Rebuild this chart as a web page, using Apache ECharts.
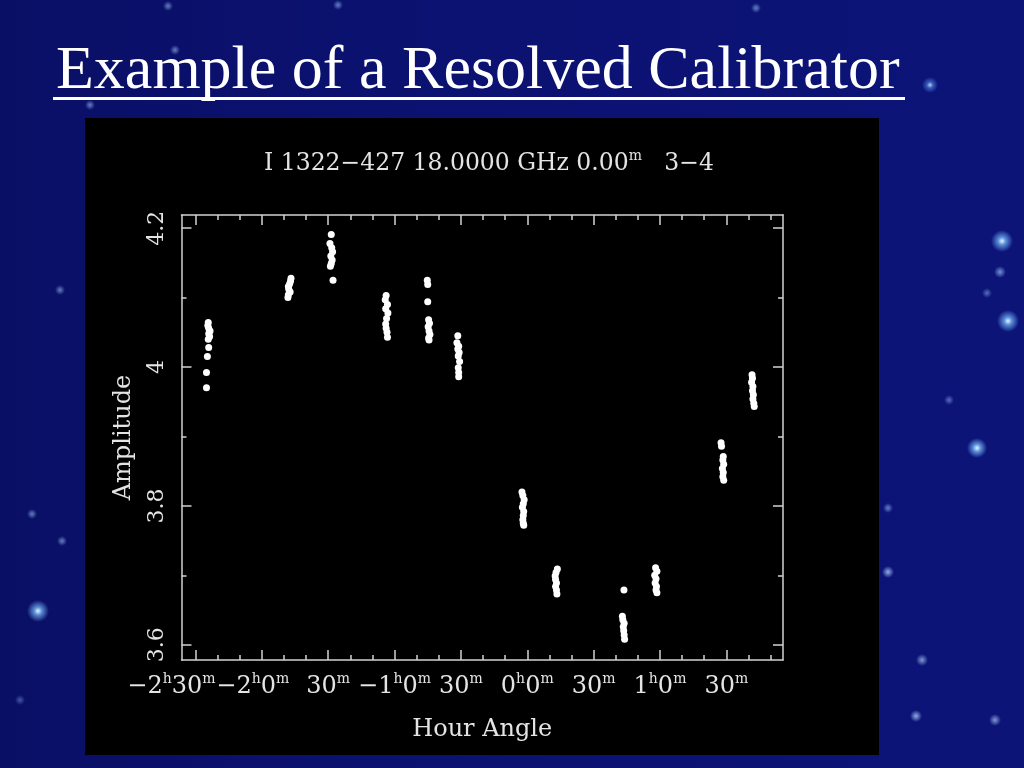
<!DOCTYPE html>
<html><head><meta charset="utf-8">
<script src="https://cdn.jsdelivr.net/npm/echarts@6/dist/echarts.min.js"></script>
<style>
html,body{margin:0;padding:0;width:1024px;height:768px;overflow:hidden;}
body{
 background:
  radial-gradient(circle at 1002px 241px, rgba(225,245,255,1) 0, rgba(120,190,255,0.7) 4px, rgba(60,110,255,0) 11px),
  radial-gradient(circle at 1008px 321px, rgba(225,245,255,1) 0, rgba(120,190,255,0.7) 4px, rgba(60,110,255,0) 11px),
  radial-gradient(circle at 977px 448px, rgba(225,245,255,1) 0, rgba(120,190,255,0.7) 4px, rgba(60,110,255,0) 10px),
  radial-gradient(circle at 38px 611px, rgba(225,245,255,1) 0, rgba(120,190,255,0.7) 4px, rgba(60,110,255,0) 11px),
  radial-gradient(circle at 930px 85px, rgba(200,230,255,0.9) 0, rgba(100,160,255,0.5) 3px, rgba(60,110,255,0) 8px),
  radial-gradient(circle at 1000px 272px, rgba(160,200,255,0.7) 0, rgba(60,110,255,0) 6px),
  radial-gradient(circle at 987px 293px, rgba(160,200,255,0.5) 0, rgba(60,110,255,0) 5px),
  radial-gradient(circle at 949px 400px, rgba(160,200,255,0.5) 0, rgba(60,110,255,0) 5px),
  radial-gradient(circle at 888px 572px, rgba(180,210,255,0.8) 0, rgba(60,110,255,0) 6px),
  radial-gradient(circle at 922px 660px, rgba(180,210,255,0.7) 0, rgba(60,110,255,0) 6px),
  radial-gradient(circle at 916px 716px, rgba(180,210,255,0.8) 0, rgba(60,110,255,0) 6px),
  radial-gradient(circle at 995px 720px, rgba(180,210,255,0.7) 0, rgba(60,110,255,0) 6px),
  radial-gradient(circle at 888px 508px, rgba(160,200,255,0.6) 0, rgba(60,110,255,0) 5px),
  radial-gradient(circle at 32px 514px, rgba(160,200,255,0.6) 0, rgba(60,110,255,0) 5px),
  radial-gradient(circle at 62px 541px, rgba(160,200,255,0.6) 0, rgba(60,110,255,0) 5px),
  radial-gradient(circle at 60px 290px, rgba(160,200,255,0.6) 0, rgba(60,110,255,0) 5px),
  radial-gradient(circle at 90px 105px, rgba(160,200,255,0.6) 0, rgba(60,110,255,0) 5px),
  radial-gradient(circle at 168px 6px, rgba(160,200,255,0.6) 0, rgba(60,110,255,0) 5px),
  radial-gradient(circle at 338px 5px, rgba(160,200,255,0.6) 0, rgba(60,110,255,0) 5px),
  radial-gradient(circle at 756px 8px, rgba(160,200,255,0.6) 0, rgba(60,110,255,0) 5px),
  radial-gradient(circle at 625px 62px, rgba(160,200,255,0.6) 0, rgba(60,110,255,0) 5px),
  radial-gradient(circle at 175px 50px, rgba(160,200,255,0.6) 0, rgba(60,110,255,0) 5px),
  radial-gradient(circle at 20px 700px, rgba(160,200,255,0.4) 0, rgba(60,110,255,0) 5px),
  linear-gradient(90deg, #0a0f66 0%, #0b1272 50%, #0c1478 100%);
}
#chart{position:absolute;left:0;top:0;width:1024px;height:768px;}
</style></head><body><div id="chart"></div>
<script>
// ---- data (hour angle in minutes, amplitude) ----
const scan01 = [[-145.0,3.970],[-145.0,3.992],[-144.6,4.015],[-144.0,4.028],[-144.2,4.040],[-143.6,4.044],[-144.0,4.048],[-143.4,4.052],[-144.0,4.056],[-144.4,4.060],[-144.2,4.064]];
const scan02 = [[-108.2,4.100],[-108.0,4.104],[-107.2,4.108],[-107.8,4.112],[-108.0,4.116],[-107.4,4.120],[-107.0,4.124],[-106.8,4.128]];
const scan03 = [[-88.6,4.191],[-89.2,4.178],[-88.4,4.172],[-88.0,4.166],[-88.8,4.160],[-88.2,4.154],[-88.6,4.149],[-89.0,4.145],[-87.8,4.125]];
const scan04 = [[-63.8,4.103],[-64.2,4.097],[-63.2,4.090],[-64.0,4.084],[-63.0,4.078],[-63.6,4.070],[-64.0,4.062],[-63.8,4.056],[-63.4,4.050],[-63.2,4.043]];
const scan05 = [[-45.2,4.125],[-45.0,4.119],[-45.0,4.094],[-44.6,4.068],[-44.2,4.063],[-44.8,4.058],[-44.4,4.052],[-44.0,4.047],[-44.6,4.042],[-44.4,4.039]];
const scan06 = [[-31.4,4.045],[-31.8,4.035],[-31.0,4.030],[-31.4,4.026],[-30.8,4.021],[-31.2,4.016],[-30.6,4.008],[-31.2,3.999],[-31.0,3.992],[-31.0,3.986]];
const scan07 = [[-2.4,3.820],[-2.0,3.815],[-1.4,3.809],[-1.8,3.803],[-2.2,3.798],[-1.6,3.792],[-1.8,3.786],[-2.0,3.780],[-1.8,3.775],[-1.6,3.772]];
const scan08 = [[13.6,3.709],[13.0,3.704],[12.6,3.699],[12.8,3.694],[13.2,3.689],[12.8,3.684],[13.2,3.679],[13.4,3.673]];
const scan09 = [[43.7,3.679],[43.0,3.641],[43.2,3.636],[43.8,3.631],[43.4,3.626],[43.6,3.620],[43.8,3.614],[44.0,3.608]];
const scan10 = [[58.0,3.711],[58.6,3.706],[57.6,3.700],[58.2,3.695],[57.8,3.689],[58.4,3.684],[58.2,3.679],[58.6,3.675]];
const scan11 = [[87.6,3.891],[87.8,3.886],[88.6,3.871],[88.4,3.866],[88.8,3.860],[88.2,3.854],[88.6,3.848],[88.4,3.842],[88.8,3.837]];
const scan12 = [[101.6,3.989],[101.8,3.984],[101.4,3.978],[102.0,3.972],[101.8,3.966],[102.2,3.960],[102.0,3.954],[102.4,3.948],[102.6,3.943]];

const xMajorTicks = [-150,-120,-90,-60,-30,0,30,60,90];
const xMinorTicks = [-140,-130,-110,-100,-80,-70,-50,-40,-20,-10,10,20,40,50,70,80,100,110];
const xTickHours = ['−2','−2','','−1','','0','','1',''];
const xTickMinutes = ['30','0','30','0','30','0','30','0','30'];
const yMajorTicks = [3.6,3.8,4.0,4.2];
const yMinorTicks = [3.7,3.9,4.1];
const yTickLabels = ['3.6','3.8','4','4.2'];

const slideTitle = 'Example of a Resolved Calibrator';
const plotTitle = 'I 1322−427 18.0000 GHz 0.00';
const plotTitleSup = 'm';
const plotTitleTail = '   3−4';
const xAxisName = 'Hour Angle';
const yAxisName = 'Amplitude';

const TXT = '#e4e4e4', AX = '#d2d2d2', FONT = 'DejaVu Serif';
const X_MIN = -156.3, X_MAX = 115.6, Y_MIN = 3.578, Y_MAX = 4.219;

const allPoints = [].concat(scan01,scan02,scan03,scan04,scan05,scan06,scan07,scan08,scan09,scan10,scan11,scan12);

function xAx(pos, ticks, len, withLine, extra){
  return Object.assign({
    type:'value', position:pos, min:X_MIN, max:X_MAX,
    axisLine:{show:withLine, onZero:false, lineStyle:{color:AX, width:1.5}},
    axisTick:{show:ticks.length>0, inside:true, length:len, customValues:ticks, lineStyle:{color:AX, width:1.5}},
    axisLabel:{show:false}, splitLine:{show:false}
  }, extra||{});
}
function yAx(pos, ticks, len, withLine, extra){
  return Object.assign({
    type:'value', position:pos, min:Y_MIN, max:Y_MAX,
    axisLine:{show:withLine, onZero:false, lineStyle:{color:AX, width:1.5}},
    axisTick:{show:true, inside:true, length:len, customValues:ticks, lineStyle:{color:AX, width:1.5}},
    axisLabel:{show:false}, splitLine:{show:false}
  }, extra||{});
}

const supBase = {fontFamily:FONT, fontSize:14, fontWeight:'normal', color:TXT, verticalAlign:'top', lineHeight:14};
const xLabelRich = {
  n:{fontFamily:FONT, fontSize:24, fontWeight:'normal', color:TXT, lineHeight:30},
  s:Object.assign({}, supBase),
  s1:Object.assign({}, supBase, {padding:[0,48,0,0]}),
  s2:Object.assign({}, supBase, {padding:[0,18,0,0]})
};
function xLabelFormatter(v){
  const i = xMajorTicks.indexOf(Math.round(v));
  if(i<0) return '';
  let s = '';
  if(xTickHours[i] !== '') s += '{n|'+xTickHours[i]+'}{s|h}';
  s += '{n|'+xTickMinutes[i]+'}{'+(i===0?'s1':(i===1?'s2':'s'))+'|m}';
  return s;
}
function xLabelCfg(values){
  return {show:true, customValues:values, margin:12, rich:xLabelRich, hideOverlap:false, formatter:xLabelFormatter};
}

const chart = echarts.init(document.getElementById('chart'));
chart.setOption({
  animation:false,
  title:[
    {text:slideTitle, left:51, top:36, textStyle:{fontFamily:'Liberation Serif', fontSize:62, fontWeight:'normal', color:'#ffffff'}},
    {text:'{n|'+plotTitle+'}{s|'+plotTitleSup+'}{n|'+plotTitleTail+'}', left:259, top:144,
     textStyle:{fontWeight:'normal', rich:{n:{fontFamily:FONT, fontSize:23.5, fontWeight:'normal', color:TXT, lineHeight:30}, s:Object.assign({}, supBase)}}}
  ],
  graphic:{elements:[
    {type:'rect', z:-100, shape:{x:85, y:118, width:794, height:637}, style:{fill:'#000000'}},
    {type:'rect', z:-90, shape:{x:53, y:97, width:852, height:3}, style:{fill:'#ffffff'}}
  ]},
  grid:{left:181.5, right:1024-783, top:215, bottom:768-660, containLabel:false},
  xAxis:[
    xAx('bottom', xMajorTicks, 10, true, {
      name:xAxisName, nameLocation:'middle', nameGap:58,
      nameTextStyle:{fontFamily:FONT, fontSize:24, color:TXT},
      axisLabel:xLabelCfg(xMajorTicks.slice(2))
    }),
    xAx('bottom', xMinorTicks, 5, false, {axisLabel:xLabelCfg([xMajorTicks[0]])}),
    xAx('bottom', [], 1, false, {axisLabel:xLabelCfg([xMajorTicks[1]])}),
    xAx('top', xMajorTicks, 10, true),
    xAx('top', xMinorTicks, 5, false)
  ],
  yAxis:[
    yAx('left', yMajorTicks, 10, true, {
      name:yAxisName, nameLocation:'middle', nameGap:46, nameRotate:90,
      nameTextStyle:{fontFamily:FONT, fontSize:24, color:TXT},
      axisLabel:{show:true, customValues:yMajorTicks, rotate:90, margin:13, hideOverlap:false,
        fontFamily:FONT, fontSize:22, color:TXT,
        formatter:function(v){
          let best=0;
          for(let i=0;i<yMajorTicks.length;i++){ if(Math.abs(yMajorTicks[i]-v)<Math.abs(yMajorTicks[best]-v)) best=i; }
          return yTickLabels[best];
        }}
    }),
    yAx('left', yMinorTicks, 5, false),
    yAx('right', yMajorTicks, 10, true),
    yAx('right', yMinorTicks, 5, false)
  ],
  series:[{
    type:'scatter', xAxisIndex:0, yAxisIndex:0, data:allPoints,
    symbol:'circle', symbolSize:7, itemStyle:{color:'#ffffff', opacity:1}
  }]
});
</script></body></html>
